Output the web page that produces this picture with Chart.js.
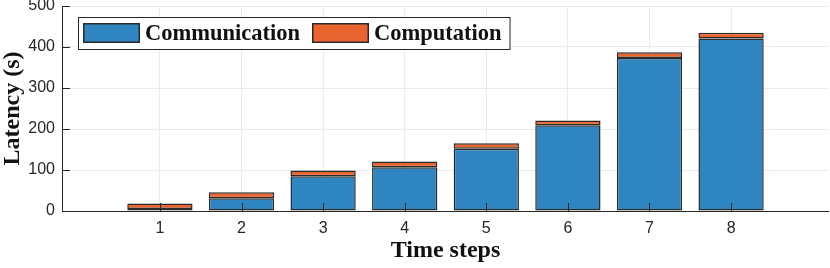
<!DOCTYPE html>
<html>
<head>
<meta charset="utf-8">
<script src="https://cdn.jsdelivr.net/npm/chart.js@4.4.1/dist/chart.umd.min.js"></script>
<style>
  html, body { margin: 0; padding: 0; background: #fff; }
  #wrap { width: 830px; height: 268px; }
</style>
</head>
<body>
<div id="wrap"><canvas id="latency-chart"></canvas></div>
<script>
let timeSteps = [1, 2, 3, 4, 5, 6, 7, 8];
let communication = [5, 31, 85, 107, 152, 209, 373, 421];
let computation = [13, 15, 14, 14, 13, 12, 14, 14];
let yTicks = [0, 100, 200, 300, 400, 500];

let axisColor = '#262626';
let serifFont = '"Liberation Serif", "Times New Roman", serif';
let sansFont = '"Liberation Sans", Arial, sans-serif';

// MATLAB style: inward ticks and axis lines drawn over the bars
let matlabAxes = {
    id: 'matlabAxes',
    afterDatasetsDraw(chart) {
        let ctx = chart.ctx;
        let {left, right, top, bottom} = chart.chartArea;
        let xs = chart.scales.x, ys = chart.scales.y;
        ctx.save();
        ctx.strokeStyle = axisColor;
        ctx.lineWidth = 1;
        ctx.beginPath();
        ctx.moveTo(left + 0.5, top);
        ctx.lineTo(left + 0.5, bottom + 0.5);
        ctx.lineTo(right, bottom + 0.5);
        for (let v of yTicks) {
            let y = Math.round(ys.getPixelForValue(v)) + 0.5;
            ctx.moveTo(left, y);
            ctx.lineTo(left + 8, y);
        }
        for (let v of timeSteps) {
            let x = Math.round(xs.getPixelForValue(v)) + 0.5;
            ctx.moveTo(x, bottom);
            ctx.lineTo(x, bottom - 8);
        }
        ctx.stroke();
        ctx.restore();
    }
};

// boxed legend inside the top left corner of the plot
let boxedLegend = {
    id: 'boxedLegend',
    afterDraw(chart) {
        let ctx = chart.ctx;
        let x0 = chart.chartArea.left + 16;
        let y0 = chart.chartArea.top + 11;
        let patchW = 57, patchH = 20, boxH = 32;
        ctx.save();
        ctx.font = 'bold 22.5px ' + serifFont;
        let items = chart.data.datasets.map(ds => ({label: ds.label, color: ds.backgroundColor, w: ctx.measureText(ds.label).width}));
        let boxW = 5;
        items.forEach((it, i) => { boxW += patchW + 5 + it.w + (i < items.length - 1 ? 12 : 8); });
        ctx.fillStyle = '#fff';
        ctx.fillRect(x0, y0, boxW, boxH);
        ctx.strokeStyle = axisColor;
        ctx.lineWidth = 1;
        ctx.strokeRect(x0 + 0.5, y0 + 0.5, boxW, boxH);
        let x = x0 + 5;
        ctx.textBaseline = 'middle';
        for (let it of items) {
            ctx.fillStyle = it.color;
            ctx.fillRect(x, y0 + 6, patchW, patchH);
            ctx.lineWidth = 1.5;
            ctx.strokeStyle = '#2a2a2a';
            ctx.strokeRect(x + 0.75, y0 + 6.75, patchW - 1.5, patchH - 1.5);
            ctx.fillStyle = '#111';
            ctx.fillText(it.label, x + patchW + 5, y0 + boxH / 2 + 1);
            x += patchW + 5 + it.w + 12;
        }
        ctx.restore();
    }
};

function toPoints(values) {
    return values.map((v, i) => ({x: timeSteps[i], y: v}));
}

let chart = new Chart(document.getElementById('latency-chart').getContext('2d'), {
    type: 'bar',
    data: {
        datasets: [{
            label: 'Communication',
            data: toPoints(communication),
            backgroundColor: '#2e85bf',
            borderColor: '#2a2a2a',
            borderWidth: 1.5,
            borderSkipped: false
        }, {
            label: 'Computation',
            data: toPoints(computation),
            backgroundColor: '#ea6430',
            borderColor: '#2a2a2a',
            borderWidth: 1.5,
            borderSkipped: false
        }]
    },
    options: {
        responsive: true,
        maintainAspectRatio: false,
        animation: false,
        categoryPercentage: 0.8,
        barPercentage: 1,
        layout: {padding: {top: 6, right: 1, left: 0, bottom: 0}},
        plugins: {
            legend: {display: false},
            tooltip: {enabled: false}
        },
        scales: {
            x: {
                type: 'linear',
                stacked: true,
                offset: false,
                min: -0.2,
                max: 9.2,
                afterBuildTicks: axis => { axis.ticks = timeSteps.map(v => ({value: v})); },
                afterFit: scale => {
                    scale.height = 57;
                    scale.paddingLeft = 0;
                    scale.paddingRight = 0;
                },
                grid: {color: '#ebebeb', drawTicks: false, offset: false},
                border: {display: false},
                ticks: {
                    color: axisColor,
                    padding: 8,
                    maxRotation: 0,
                    font: {family: sansFont, size: 16}
                },
                title: {
                    display: true,
                    text: 'Time steps',
                    color: '#111',
                    padding: {top: 0, bottom: 5},
                    font: {family: serifFont, size: 24, weight: 'bold', lineHeight: 1}
                }
            },
            y: {
                stacked: true,
                min: 0,
                max: 500,
                afterFit: scale => {
                    scale.width = 62;
                    scale.paddingTop = 0;
                    scale.paddingBottom = 0;
                },
                grid: {color: '#ebebeb', drawTicks: false},
                border: {display: false},
                ticks: {
                    stepSize: 100,
                    color: axisColor,
                    padding: 7,
                    font: {family: sansFont, size: 16}
                },
                title: {
                    display: true,
                    text: 'Latency (s)',
                    color: '#111',
                    padding: {top: 1, bottom: 0},
                    font: {family: serifFont, size: 24, weight: 'bold', lineHeight: 1}
                }
            }
        }
    },
    plugins: [matlabAxes, boxedLegend]
});
</script>
</body>
</html>
